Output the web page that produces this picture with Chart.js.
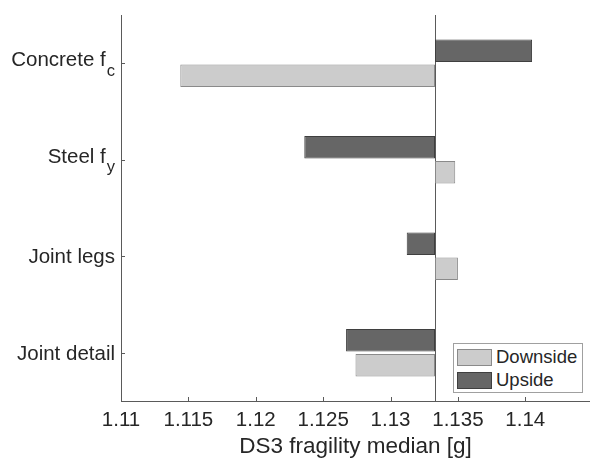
<!DOCTYPE html>
<html><head><meta charset="utf-8">
<script src="https://cdn.jsdelivr.net/npm/chart.js@4.4.1/dist/chart.umd.min.js"></script>
<style>
html,body{margin:0;padding:0;background:#fff;}
#wrap{position:relative;width:590px;height:460px;}
#legend{position:absolute;left:453px;top:343px;width:130px;height:50px;border:1px solid #a0a0a0;background:#fff;font-family:"Liberation Sans",Arial,Helvetica,sans-serif;font-size:18.5px;color:#262626;box-sizing:border-box;}
.row{position:absolute;left:3px;height:18px;display:flex;align-items:center;white-space:nowrap;}
.sw{width:35px;height:17px;box-sizing:border-box;margin-right:4px;}
</style></head><body>
<div id="wrap"><canvas id="c" width="590" height="460"></canvas><div id="legend"></div></div>
<script>
const categories = ['Concrete f', 'Steel f', 'Joint legs', 'Joint detail'];
const subscripts = ['c', 'y', '', ''];
const baseValue = 1.1333;
const upside = [1.1405, 1.1236, 1.1312, 1.1267];
const downside = [1.1144, 1.1348, 1.1350, 1.1274];
const xTicks = [1.11, 1.115, 1.12, 1.125, 1.13, 1.135, 1.14];
const xMin = 1.11, xMax = 1.1448;
const xTitle = 'DS3 fragility median [g]';

const FONT = '"Liberation Sans", Arial, Helvetica, sans-serif';
const TEXT = '#262626';
const AXIS = '#5a5a5a';
const DARK = '#666666', DARK_EDGE = '#3f3f3f';
const LIGHT = '#cccccc', LIGHT_EDGE = '#8a8a8a';

const decor = {
  id: 'decor',
  beforeDatasetsDraw(chart) {
    const {ctx, chartArea: a, scales: {x, y}} = chart;
    ctx.save();
    ctx.strokeStyle = AXIS; ctx.lineWidth = 1;
    const bx = Math.round(x.getPixelForValue(baseValue)) + 0.5;
    ctx.beginPath(); ctx.moveTo(bx, a.top); ctx.lineTo(bx, a.bottom); ctx.stroke();
    ctx.restore();
  },
  afterDraw(chart) {
    const {ctx, chartArea: a, scales: {x, y}} = chart;
    ctx.save();
    ctx.strokeStyle = AXIS; ctx.lineWidth = 1;
    ctx.beginPath();
    xTicks.forEach(v => {
      const px = Math.round(x.getPixelForValue(v)) + 0.5;
      ctx.moveTo(px, a.bottom); ctx.lineTo(px, a.bottom - 4);
    });
    categories.forEach((c, i) => {
      const py = Math.round(y.getPixelForTick(i)) + 0.5;
      ctx.moveTo(a.left, py); ctx.lineTo(a.left + 4, py);
    });
    ctx.stroke();
    ctx.fillStyle = TEXT;
    ctx.textBaseline = 'alphabetic';
    ctx.textAlign = 'right';
    const right = a.left - 6;
    categories.forEach((c, i) => {
      const py = y.getPixelForTick(i);
      if (subscripts[i]) {
        ctx.font = '16.5px ' + FONT;
        const sw = ctx.measureText(subscripts[i]).width;
        ctx.fillText(subscripts[i], right, py + 12.5);
        ctx.font = '20.5px ' + FONT;
        ctx.fillText(c, right - sw - 1, py + 3);
      } else {
        ctx.font = '20.5px ' + FONT;
        ctx.fillText(c, right, py + 7);
      }
    });
    ctx.restore();
  }
};

const barOpts = {borderWidth: 1, borderSkipped: false, categoryPercentage: 0.52, barPercentage: 0.9};

new Chart(document.getElementById('c'), {
  type: 'bar',
  data: {
    labels: categories,
    datasets: [
      Object.assign({label: 'Upside', data: upside.map(v => [baseValue, v]), backgroundColor: DARK, borderColor: DARK_EDGE}, barOpts),
      Object.assign({label: 'Downside', data: downside.map(v => [baseValue, v]), backgroundColor: LIGHT, borderColor: LIGHT_EDGE}, barOpts)
    ]
  },
  options: {
    indexAxis: 'y',
    responsive: false,
    animation: false,
    devicePixelRatio: 1,
    layout: {padding: {top: 15, right: 0, left: 0, bottom: 0}},
    plugins: {legend: {display: false}, tooltip: {enabled: false}},
    scales: {
      x: {
        type: 'linear', min: xMin, max: xMax,
        afterBuildTicks: s => { s.ticks = xTicks.map(v => ({value: v})); },
        afterFit: s => { s.height = 59; },
        grid: {display: false, drawTicks: false},
        border: {display: true, color: AXIS, width: 1},
        ticks: {padding: 7, color: TEXT, font: {family: FONT, size: 20.5}, maxRotation: 0, autoSkip: false,
                callback: v => String(v)},
        title: {display: true, text: xTitle, color: TEXT, font: {family: FONT, size: 22.5}, padding: {top: 0, bottom: 0}}
      },
      y: {
        type: 'category',
        afterFit: s => { s.width = 121; },
        grid: {display: false, drawTicks: false},
        border: {display: true, color: AXIS, width: 1},
        ticks: {display: false}
      }
    }
  },
  plugins: [decor]
});

const legend = document.getElementById('legend');
[['Downside', LIGHT, LIGHT_EDGE, 4], ['Upside', DARK, DARK_EDGE, 27]].forEach(([t, bg, bc, top]) => {
  const r = document.createElement('div'); r.className = 'row'; r.style.top = top + 'px';
  const s = document.createElement('div'); s.className = 'sw'; s.style.background = bg; s.style.border = '1px solid ' + bc;
  const l = document.createElement('span'); l.textContent = t;
  r.appendChild(s); r.appendChild(l); legend.appendChild(r);
});
</script>
</body></html>
